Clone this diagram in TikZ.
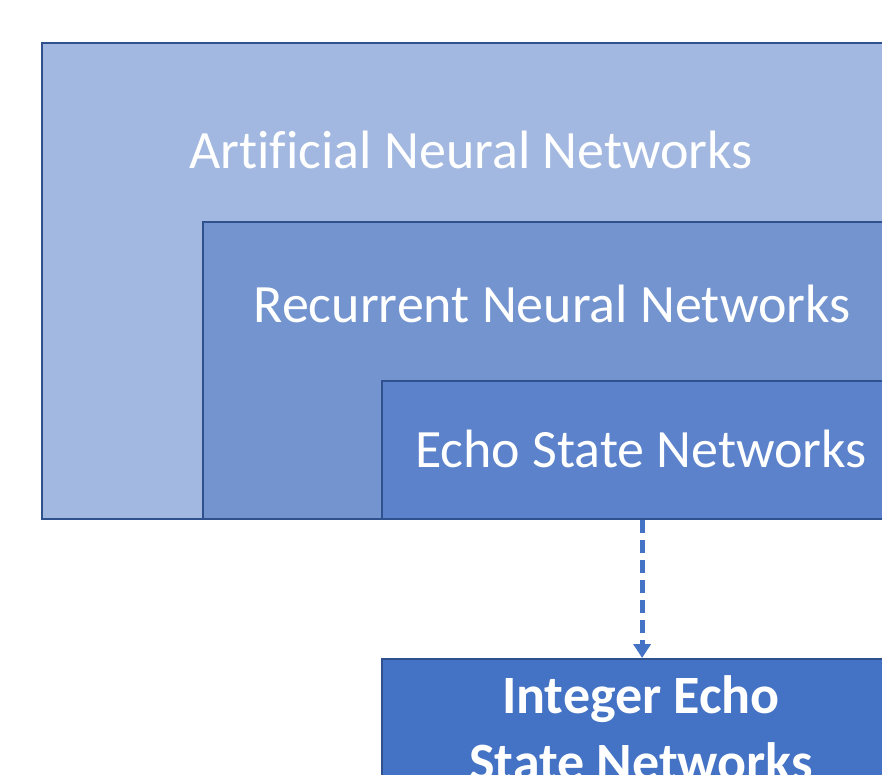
\documentclass[tikz,border=0pt]{standalone}
\usepackage{fontspec}
\setmainfont{Carlito}[Ligatures=NoCommon]
\usetikzlibrary{arrows.meta}
\definecolor{annfill}{HTML}{A2B8E0}
\definecolor{rnnfill}{HTML}{7394CF}
\definecolor{esnfill}{HTML}{5B82CB}
\definecolor{iesnfill}{HTML}{4472C4}
\definecolor{edgeblue}{HTML}{2F528F}
\tikzstyle{layer}=[draw=edgeblue,line width=2.2pt,anchor=north west,inner sep=0pt]
\tikzstyle{caption}=[text=white,anchor=base,inner sep=0pt,font=\fontsize{54}{67}\selectfont]
\tikzstyle{flow}=[draw=iesnfill,line width=5pt,dash pattern=on 13pt off 7pt,
  -{Triangle[width=17pt,length=14pt]}]

\begin{document}
\begin{tikzpicture}[x=1pt,y=-1pt]
  \clip (0,0) rectangle (882,775);
  % nested boxes, cut off at the right edge
  \node[layer,fill=annfill,minimum width=860pt,minimum height=476pt] (ann) at (41,42) {};
  \node[layer,fill=rnnfill,minimum width=699pt,minimum height=297pt] (rnn) at (202,221) {};
  \node[layer,fill=esnfill,minimum width=520pt,minimum height=138pt] (esn) at (381,380) {};
  \node[layer,fill=iesnfill,minimum width=520pt,minimum height=180pt] (iesn) at (381,658) {};
  % labels
  \node[caption] (annlabel) at (471,169) {Artificial Neural Networks};
  \node[caption] (rnnlabel) at (552,322) {Recurrent Neural Networks};
  \node[caption] (esnlabel) at (641,467) {Echo State Networks};
  \node[caption,font=\bfseries\fontsize{54}{67}\selectfont] (iesnlabel1) at (641,713) {Integer Echo};
  \node[caption,font=\bfseries\fontsize{54}{67}\selectfont] (iesnlabel2) at (641,780) {State Networks};
  % dashed link
  \draw[flow] (esn.south) -- (iesn.north);
\end{tikzpicture}
\end{document}
